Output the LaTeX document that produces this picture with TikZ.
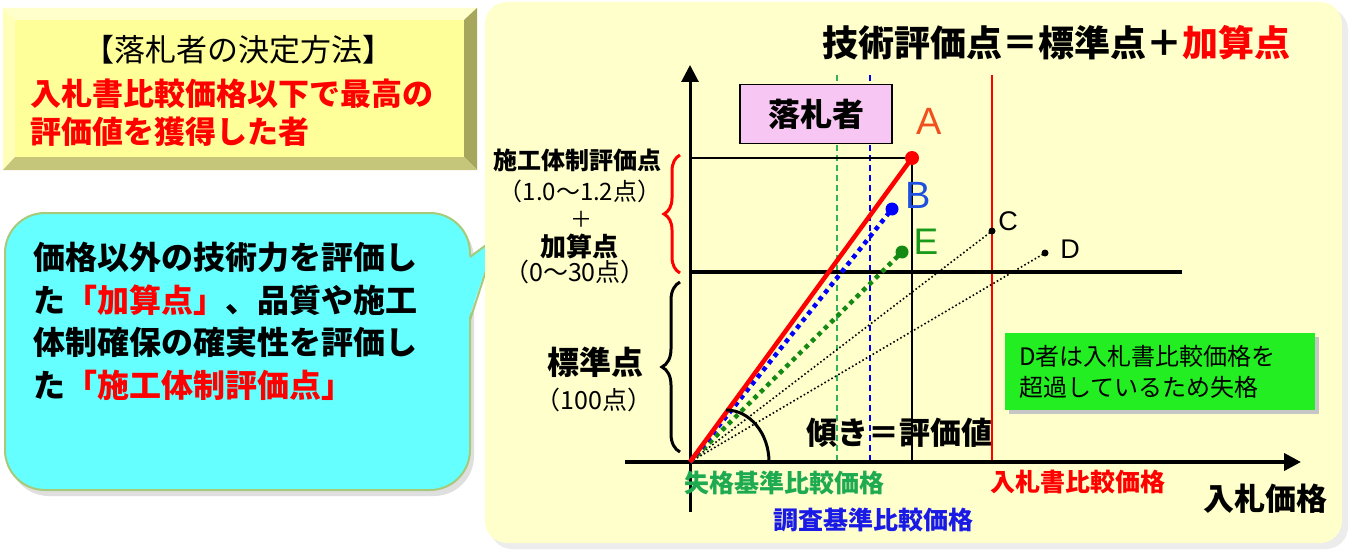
\documentclass[tikz,border=0pt]{standalone}
\usepackage{fontspec}
\setmainfont{Noto Sans CJK JP}
\newfontfamily\lat{Liberation Sans}
\usetikzlibrary{arrows.meta,decorations.pathreplacing}
\definecolor{face}{HTML}{FFFF99}
\definecolor{bevtop}{HTML}{FFFFCC}
\definecolor{bevleft}{HTML}{FFFFB8}
\definecolor{bevright}{HTML}{A6A65C}
\definecolor{bevbot}{HTML}{C6C67A}
\definecolor{panel}{HTML}{FFFFCC}
\definecolor{bubblefill}{HTML}{66FFFF}
\definecolor{bubbleline}{HTML}{A6C97A}
\definecolor{pinkfill}{HTML}{F8C6F2}
\definecolor{greenbox}{HTML}{22EE22}
\definecolor{alabel}{HTML}{F24E1E}
\definecolor{blabel}{HTML}{1F4FE0}
\definecolor{elabel}{HTML}{1A9A1A}
\definecolor{edots}{HTML}{148A14}
\definecolor{gdash}{HTML}{33B060}
\definecolor{gtext}{HTML}{1EAA50}
\definecolor{btext}{HTML}{1A1AE6}
\tikzset{
  txt/.style={inner sep=0pt, text=black},
  fs/.style={font=\fontsize{#1}{#1}\selectfont},
  fsb/.style={font=\fontsize{#1}{#1}\selectfont\bfseries},
  ltr/.style={inner sep=0pt, font=\fontsize{#1}{#1}\selectfont\lat},
  axis/.style={line width=#1, -{Triangle[length=17pt,width=17pt]}},
  thinblk/.style={line width=1.5pt},
  vdash/.style={line width=1.3pt, dash pattern=on 6pt off 4pt},
  bigdots/.style={line width=4.5pt, dash pattern=on 4.5pt off 4.5pt},
  finedots/.style={line width=1.6pt, dash pattern=on 1.6pt off 2.4pt},
  pt/.style={circle, inner sep=0pt, minimum size=#1}
}
\begin{document}
\begin{tikzpicture}[x=1pt,y=-1pt]
\useasboundingbox (0,0) rectangle (1350,551);
\fill[white] (0,0) rectangle (1350,551);

% ---------- bevel box (top left) ----------
\fill[bevtop] (3,8) -- (477,8) -- (464,20) -- (15,20) -- cycle;
\fill[bevleft] (3,8) -- (15,20) -- (15,157) -- (3,170) -- cycle;
\fill[bevright] (477,8) -- (477,170) -- (464,157) -- (464,20) -- cycle;
\fill[bevbot] (3,170) -- (477,170) -- (464,157) -- (15,157) -- cycle;
\fill[face] (15,20) rectangle (464,157);
\node[txt, fs=31] (howto) at (238,50) {【落札者の決定方法】};
\node[txt, text=red, align=left, anchor=north west,
      font=\fontsize{31}{38}\selectfont\bfseries] (rule) at (30,79)
  {入札書比較価格以下で最高の\\評価値を獲得した者};

% ---------- speech bubble ----------
\fill[gray!25, rounded corners=40pt] (9,219) rectangle (474,496);
\fill[bubblefill, draw=bubbleline, line width=2pt, rounded corners=40pt]
  (5,213) rectangle (470,490);
\coordinate (tailA) at (470,257);
\coordinate (tailtip) at (497,237);
\coordinate (tailB) at (470,320);
\fill[bubblefill] (468,257) -- (tailtip) -- (468,320) -- cycle;
\draw[bubbleline, line width=2pt, line join=round] (tailA) -- (tailtip) -- (tailB);
\node[txt, align=left, anchor=north west,
      font=\fontsize{32}{42.7}\selectfont\bfseries] (bubbletext) at (33,242)
  {価格以外の技術力を評価し\\た\textcolor{red}{「加算点」}、品質や施工\\体制確保の確実性を評価し\\た\textcolor{red}{「施工体制評価点」}};

% ---------- right panel ----------
\fill[gray!15, rounded corners=22pt] (490,8) rectangle (1348,549);
\fill[panel, rounded corners=22pt] (485,2) rectangle (1342,543);

\node[txt, fsb=36] (title) at (1056,43)
  {技術評価点＝標準点＋\textcolor{red}{加算点}};

% key coordinates
\coordinate (O) at (690,462);
\coordinate (ytop) at (690,65);
\coordinate (ybot) at (690,512);
\coordinate (xleft) at (625,462);
\coordinate (xright) at (1301,462);
\coordinate (Apt) at (912,158);
\coordinate (Bpt) at (892,209);
\coordinate (Ept) at (902,252);
\coordinate (Cpt) at (992,231);
\coordinate (Dpt) at (1045,253);

% vertical reference lines
\draw[gdash, vdash] (837,75) -- (837,462);
\draw[blue, vdash] (870,75) -- (870,462);
\draw[red, line width=1.3pt] (992,75) -- (992,462);

% guide lines for A
\draw[thinblk] (690,158) -- (Apt);
\draw[line width=2pt] (Apt) -- (912,462);
% standard score line
\draw[line width=4pt] (690,272) -- (1182,272);

% axes
\draw[axis=3pt] (ybot) -- (ytop);
\draw[axis=4pt] (xleft) -- (xright);

% evaluation lines
\draw[finedots] (O) -- (Dpt);
\draw[finedots] (O) -- (Cpt);
\draw[edots, bigdots] (O) -- (Ept);
\draw[blue, bigdots] (O) -- (Bpt);
\draw[red, line width=4.5pt] (O) -- (Apt);

% points
\node[pt=14pt, fill=red] (A) at (Apt) {};
\node[pt=13pt, fill=blue] (B) at (Bpt) {};
\node[pt=13pt, fill=edots] (E) at (Ept) {};
\node[pt=7pt, fill=black] (C) at (Cpt) {};
\node[pt=7pt, fill=black] (D) at (Dpt) {};
\node[ltr=38, text=alabel] (Alab) at (929,121) {A};
\node[ltr=38, text=blabel] (Blab) at (918,195) {B};
\node[ltr=37, text=elabel] (Elab) at (926,242) {E};
\node[ltr=27] (Clab) at (1008,221) {C};
\node[ltr=27] (Dlab) at (1070,249) {D};

% slope arc
\draw[line width=3pt] (726,410) arc[start angle=-90, end angle=0, x radius=43, y radius=52];
\node[txt, fsb=31] (slope) at (899,433) {傾き＝評価値};

% winner box
\node[draw=black, line width=1.2pt, fill=pinkfill, minimum width=152pt,
      minimum height=59pt, inner sep=0pt, fsb=32] (winner) at (816,114) {落札者};

% D disqualified box
\fill[gray!45] (1009,337) rectangle (1319,414);
\fill[greenbox] (1005,333) rectangle (1315,410);
\node[txt, align=left, anchor=north west,
      font=\fontsize{24}{31}\selectfont] (dnote) at (1019,345)
  {D者は入札書比較価格を\\超過しているため失格};

% left side labels and braces
\node[txt, fsb=24] (sekou) at (577,160) {施工体制評価点};
\node[txt, fs=24] (range1) at (580,191) {（1.0～1.2点）};
\node[txt, fs=22] (plus) at (581,219) {＋};
\node[txt, fsb=26] (kasan) at (579,246) {加算点};
\node[txt, fs=25] (range2) at (575,272) {（0～30点）};
\node[txt, fsb=32] (hyojun) at (595,362) {標準点};
\node[txt, fs=25] (range3) at (594,400) {（100点）};
\draw[red, line width=3pt, decorate, decoration={brace, amplitude=16pt}]
  (680,273) -- (680,155);
\draw[black, line width=3pt, decorate, decoration={brace, amplitude=18pt}]
  (680,452) -- (680,282);

% axis labels
\node[txt, fsb=25, text=gtext] (shikkaku) at (784,483) {失格基準比較価格};
\node[txt, fsb=25, text=btext] (chosa) at (873,520) {調査基準比較価格};
\node[txt, fsb=25, text=red] (nyusatsuhikaku) at (1078,482) {入札書比較価格};
\node[txt, fsb=31] (nyusatsu) at (1265,499) {入札価格};
\end{tikzpicture}
\end{document}
